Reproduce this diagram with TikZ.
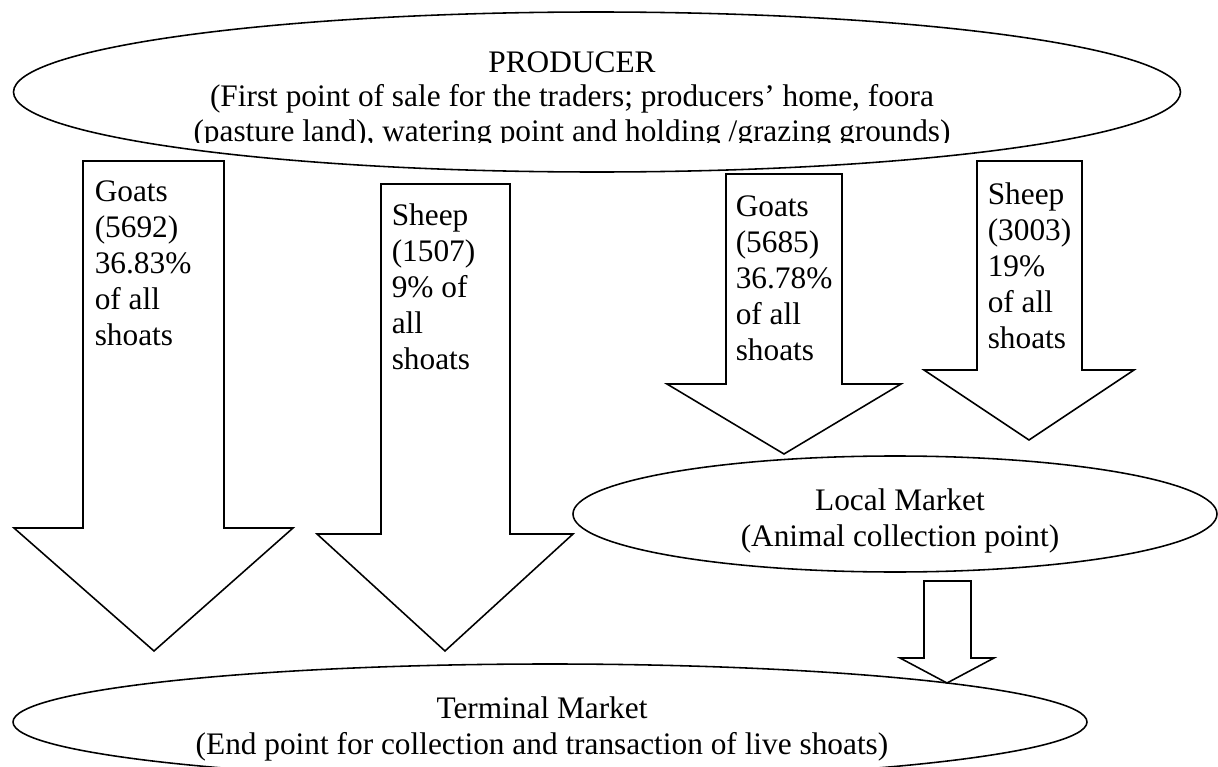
\documentclass[tikz,border=0pt]{standalone}
\usepackage{fontspec}
\setmainfont{Liberation Serif}
\usetikzlibrary{shapes.geometric}

\begin{document}
\begin{tikzpicture}[x=0.383pt, y=-0.383pt, line width=0.6pt,
    oval/.style={draw, ellipse, inner sep=0pt},
    flow/.style={draw, fill=white, line join=miter},
    site/.style={align=center, inner sep=0pt, font=\fontsize{12}{13.8}\selectfont},
    tag/.style={anchor=north west, inner sep=0pt, align=left, font=\fontsize{12}{13.8}\selectfont}]
    \def\px{0.383pt}

    \clip (0,0) rectangle (1218,767);

    \node[oval, minimum width=1167*\px, minimum height=160*\px] (producer) at (597,92) {};
    \node[oval, minimum width=644*\px, minimum height=116*\px] (local) at (895,514) {};
    \node[oval, minimum width=1074*\px, minimum height=116*\px] (terminal) at (550,722) {};

    \begin{scope}
        \clip (0,0) rectangle (1218,142);
        \node[site, font=\fontsize{12}{13.2}\selectfont] (producertext) at (572,100)
            {PRODUCER\\(First point of sale for the traders; producers' home, foora\\(pasture land), watering point and holding /grazing grounds)};
    \end{scope}
    \node[site] (localtext) at (900,521) {Local Market\\(Animal collection point)};
    \node[site] (terminaltext) at (542,729) {Terminal Market\\(End point for collection and transaction of live shoats)};

    \draw[flow] (83,161) -- (224,161) -- (224,528) -- (293,528) -- (154,651) -- (14,528) -- (83,528) -- cycle;
    \draw[flow] (381,184) -- (510,184) -- (510,534) -- (573,534) -- (445,651) -- (317,534) -- (381,534) -- cycle;
    \draw[flow] (726,174) -- (842,174) -- (842,384) -- (901,384) -- (784,454) -- (667,384) -- (726,384) -- cycle;
    \draw[flow] (977,161) -- (1082,161) -- (1082,370) -- (1134,370) -- (1029,440) -- (924,370) -- (977,370) -- cycle;
    \draw[flow] (924,581) -- (971,581) -- (971,658) -- (994,658) -- (947,683) -- (900,658) -- (924,658) -- cycle;

    \node[tag] (goatsone) at (94,180) {Goats\\(5692)\\36.83\%\\of all\\shoats};
    \node[tag] (sheepone) at (391,203) {Sheep\\(1507)\\9\% of\\all\\shoats};
    \node[tag] (goatstwo) at (735,195) {Goats\\(5685)\\36.78\%\\of all\\shoats};
    \node[tag] (sheeptwo) at (987,182) {Sheep\\(3003)\\19\%\\of all\\shoats};
\end{tikzpicture}
\end{document}
